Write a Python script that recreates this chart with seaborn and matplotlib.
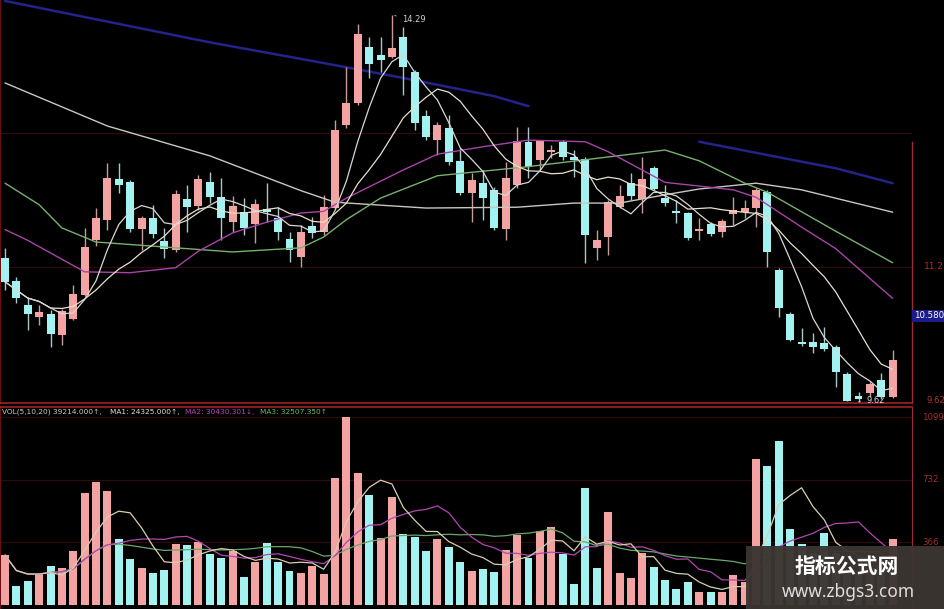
import numpy as np
import pandas as pd
import matplotlib
matplotlib.use("Agg")
import matplotlib.pyplot as plt
import seaborn as sns
from matplotlib.patches import Rectangle

# daily k-line (price)
opens = [11.36, 11.08, 10.79, 10.65, 10.68, 10.43, 10.62, 10.91, 11.57, 11.82,
         12.31, 12.27, 11.71, 11.84, 11.56, 11.45, 12.07, 11.98, 12.27, 12.09,
         11.79, 11.91, 11.77, 11.95, 11.84, 11.59, 11.37, 11.74, 11.67, 11.96,
         12.96, 13.23, 13.90, 13.81, 13.78, 14.02, 13.60, 13.07, 12.78, 12.93,
         12.53, 12.14, 12.26, 12.18, 11.71, 12.24, 12.76, 12.54, 12.64, 12.76,
         12.58, 12.55, 11.48, 11.61, 11.97, 12.26, 12.07, 12.44, 12.08, 11.92,
         11.90, 11.68, 11.77, 11.67, 11.89, 11.91, 11.96, 12.15, 11.21, 10.68,
         10.34, 10.34, 10.33, 10.28, 9.96, 9.69, 9.73, 9.88, 9.68]
highs = [11.48, 11.13, 10.89, 10.79, 10.73, 10.74, 11.03, 11.72, 11.96, 12.50,
         12.50, 12.30, 11.86, 12.00, 11.72, 12.18, 12.24, 12.36, 12.40, 12.32,
         12.11, 12.08, 12.07, 12.26, 11.97, 11.67, 11.76, 11.85, 12.12, 13.02,
         13.66, 14.18, 14.02, 14.02, 14.29, 14.15, 13.63, 13.14, 13.00, 13.08,
         12.69, 12.38, 12.42, 12.21, 12.52, 12.94, 12.94, 12.78, 12.72, 12.78,
         12.66, 12.58, 11.70, 12.06, 12.24, 12.38, 12.58, 12.47, 12.24, 12.06,
         11.91, 11.84, 11.79, 11.83, 12.09, 12.06, 12.20, 12.18, 11.24, 10.71,
         10.51, 10.45, 10.52, 10.31, 9.98, 9.74, 9.86, 9.97, 10.25]
lows = [10.97, 10.81, 10.49, 10.55, 10.28, 10.31, 10.61, 10.90, 11.50, 11.70,
        12.14, 11.67, 11.45, 11.60, 11.36, 11.43, 11.67, 11.94, 12.02, 11.57,
        11.67, 11.63, 11.54, 11.79, 11.57, 11.31, 11.25, 11.60, 11.63, 11.95,
        12.93, 13.20, 13.53, 13.60, 13.77, 13.32, 12.90, 12.78, 12.60, 12.48,
        12.12, 11.79, 11.82, 11.70, 11.57, 12.20, 12.32, 12.42, 12.56, 12.54,
        12.33, 11.30, 11.33, 11.39, 11.96, 12.06, 11.90, 12.18, 11.98, 11.78,
        11.57, 11.57, 11.62, 11.61, 11.76, 11.84, 11.73, 11.25, 10.65, 10.36,
        10.30, 10.21, 10.23, 9.80, 9.63, 9.62, 9.68, 9.65, 9.67]
closes = [11.07, 10.87, 10.68, 10.71, 10.44, 10.72, 10.92, 11.49, 11.84, 12.32,
          12.24, 11.71, 11.84, 11.65, 11.47, 12.13, 11.97, 12.31, 12.09, 11.84,
          11.98, 11.72, 12.01, 11.91, 11.67, 11.45, 11.67, 11.66, 11.97, 12.90,
          13.23, 14.06, 13.70, 13.75, 13.89, 13.66, 12.99, 12.82, 12.96, 12.52,
          12.14, 12.30, 12.08, 11.72, 12.32, 12.77, 12.46, 12.77, 12.66, 12.58,
          12.54, 11.63, 11.57, 12.03, 12.11, 12.11, 12.31, 12.19, 12.02, 11.90,
          11.60, 11.71, 11.65, 11.80, 11.94, 11.96, 12.18, 11.43, 10.75, 10.37,
          10.32, 10.28, 10.26, 9.98, 9.63, 9.65, 9.84, 9.68, 10.13]

# volume (axis units) and bar colour (1 = red/up)
volumes = [292, 111, 140, 181, 228, 216, 316, 655, 719, 666,
           386, 269, 216, 187, 205, 357, 351, 368, 298, 275,
           316, 164, 251, 362, 251, 199, 187, 228, 181, 742,
           1099, 772, 643, 392, 631, 415, 398, 316, 386, 339,
           251, 199, 210, 193, 322, 409, 275, 433, 456, 298,
           123, 684, 216, 544, 187, 158, 304, 222, 146, 94,
           134, 76, 76, 76, 175, 134, 854, 813, 959, 444,
           357, 304, 421, 304, 205, 193, 216, 234, 386]
vol_up = [1, 0, 0, 1, 0, 1, 1, 1, 1, 1,
          0, 0, 1, 0, 0, 1, 0, 1, 0, 0,
          1, 0, 1, 0, 0, 0, 1, 1, 1, 1,
          1, 1, 0, 1, 1, 0, 0, 0, 1, 0,
          0, 1, 0, 0, 1, 1, 0, 1, 1, 0,
          0, 0, 0, 1, 1, 1, 1, 0, 0, 0,
          0, 1, 0, 1, 1, 1, 1, 0, 0, 0,
          0, 0, 0, 0, 0, 0, 1, 0, 1]

# long moving averages (history not visible)
ma20_idx = [0, 2, 7, 11, 15, 17, 20, 23, 26, 28, 30, 35, 38, 42, 46, 51, 53, 58, 64, 66, 70, 73, 78]
ma20_val = [11.70, 11.57, 11.19, 11.18, 11.24, 11.44, 11.66, 11.79, 11.90, 11.92, 12.08, 12.42,
            12.61, 12.70, 12.78, 12.76, 12.64, 12.27, 12.18, 12.09, 11.73, 11.47, 10.87]
ma30_idx = [0, 3, 5, 8, 14, 20, 26, 28, 30, 33, 38, 46, 52, 58, 61, 65, 67, 73, 78]
ma30_val = [12.26, 12.00, 11.72, 11.55, 11.49, 11.43, 11.48, 11.61, 11.82, 12.08, 12.35,
            12.46, 12.56, 12.66, 12.53, 12.26, 12.15, 11.68, 11.30]
ma60_idx = [0, 9, 18, 26, 29, 37, 45, 50, 54, 58, 61, 66, 70, 78]
ma60_val = [13.47, 12.95, 12.59, 12.17, 12.03, 11.96, 11.97, 12.02, 12.02, 12.12, 12.19,
            12.26, 12.18, 11.91]
ma120_a_idx = [0, 9, 18, 28, 35, 43, 46]
ma120_a_val = [14.46, 14.21, 13.96, 13.71, 13.53, 13.31, 13.19]
ma120_b_idx = [61, 67, 73, 78]
ma120_b_val = [12.76, 12.60, 12.44, 12.26]

vol_labels = ["VOL(5,10,20) 39214.000↑,", "MA1: 24325.000↑,", "MA2: 30430.301↓,", "MA3: 32507.350↑"]

df = pd.DataFrame({"open": opens, "high": highs, "low": lows, "close": closes,
                   "vol": volumes, "vup": vol_up})
df["i"] = np.arange(len(df))
df["ma5"] = df["close"].rolling(5, min_periods=1).mean()
df["ma10"] = df["close"].rolling(10, min_periods=1).mean()
df["vma5"] = df["vol"].rolling(5, min_periods=1).mean()
df["vma10"] = df["vol"].rolling(10, min_periods=1).mean()
df["vma20"] = df["vol"].rolling(20, min_periods=1).mean()

sns.set_style("dark", {"axes.facecolor": "black", "figure.facecolor": "black"})
plt.rcParams['font.family'] = ['DejaVu Sans', 'Noto Sans CJK SC']

PINK = "#f4a3a3"
CYAN = "#a3f2f2"
W, H = 945, 609

fig = plt.figure(figsize=(9.45, 6.09), dpi=100)
fig.patch.set_facecolor("black")
ax = fig.add_axes([0, 1 - 403 / H, 912 / W, 403 / H])
ax2 = fig.add_axes([0, 0, 912 / W, (H - 407) / H])

# ---- price pane
up = df["close"] >= df["open"]
colors = np.where(up, PINK, CYAN)
wick = np.where(up, "#c89a9a", "#a8c8c8")
bottoms = np.minimum(df["open"], df["close"])
heights = np.maximum((df["close"] - df["open"]).abs(), 0.02)
for lvl in [12.87, 11.25]:
    ax.axhline(lvl, color="#300b0b", lw=0.9, zorder=0)
ax.vlines(df["i"], df["low"], df["high"], colors=wick, lw=1, zorder=2)
ax.bar(df["i"], heights, bottom=bottoms, width=0.7, color=colors, lw=0, zorder=3)

sns.lineplot(x=ma120_a_idx, y=ma120_a_val, ax=ax, color="#23238a", lw=1.8, zorder=1)
sns.lineplot(x=ma120_b_idx, y=ma120_b_val, ax=ax, color="#23238a", lw=1.8, zorder=1)
sns.lineplot(x=ma60_idx, y=ma60_val, ax=ax, color="#c8c8c0", lw=1.0, zorder=4)
sns.lineplot(x=ma30_idx, y=ma30_val, ax=ax, color="#78b070", lw=1.0, zorder=4)
sns.lineplot(x=ma20_idx, y=ma20_val, ax=ax, color="#a844a8", lw=1.0, zorder=4)
sns.lineplot(data=df, x="i", y="ma10", ax=ax, color="#e8e0cc", lw=0.9, zorder=4)
sns.lineplot(data=df, x="i", y="ma5", ax=ax, color="#d8d8d8", lw=0.9, zorder=4)

hi = df["high"].idxmax()
lo = df["low"].idxmin()
ax.annotate(f"{df['high'][hi]:.2f}", xy=(hi, df["high"][hi]), xytext=(hi + 0.9, df["high"][hi] - 0.06),
            color="#d0d0d0", fontsize=6, va="center", ha="left",
            arrowprops=dict(arrowstyle="-", color="#d0d0d0", lw=0.6))
ax.annotate(f"{df['low'][lo]:.2f}", xy=(lo, df["low"][lo]), xytext=(lo + 0.7, df["low"][lo] + 0.02),
            color="#d0d0d0", fontsize=6, va="center", ha="left", annotation_clip=False,
            arrowprops=dict(arrowstyle="-", color="#d0d0d0", lw=0.6))

ax.set_xlim(-0.44, 79.7)
ax.set_ylim(9.607, 14.471)
ax.set_xticks([])
ax.set_yticks([])
ax.set_xlabel("")
ax.set_ylabel("")
ax.grid(False)
ax.spines["top"].set_visible(False)
ax.spines["bottom"].set_color("#a02030")
ax.spines["bottom"].set_linewidth(1.2)
ax.spines["left"].set_color("#6a1010")
ax.spines["left"].set_linewidth(1.5)
ax.spines["right"].set_color("#a02838")
ax.spines["right"].set_linewidth(1.0)
ax.spines["right"].set_bounds(9.607, 12.76)

ytr = ax.get_yaxis_transform()
ax.text(1.013, 11.25, "11.2", transform=ytr, color="#b03030", fontsize=6.5, va="center", clip_on=False)
ax.text(1.016, 9.64, "9.62", transform=ytr, color="#b03030", fontsize=6.2, va="center", clip_on=False)
ax.text(1.002, 10.66, "10.580", transform=ytr, color="white", fontsize=6.2, va="center",
        clip_on=False, bbox=dict(boxstyle="square,pad=0.2", fc="#1c1c8c", ec="none"))

# ---- volume pane
vcol = np.where(df["vup"] == 1, PINK, CYAN)
for lvl in [1099, 732, 366]:
    ax2.axhline(lvl, color="#300b0b", lw=0.9, zorder=0)
ax2.bar(df["i"], df["vol"], width=0.7, color=vcol, lw=0, zorder=2)
sns.lineplot(data=df, x="i", y="vma20", ax=ax2, color="#6aa86a", lw=0.9, zorder=3)
sns.lineplot(data=df, x="i", y="vma10", ax=ax2, color="#b048b0", lw=0.9, zorder=3)
sns.lineplot(data=df, x="i", y="vma5", ax=ax2, color="#d8ceb0", lw=0.9, zorder=3)
ax2.set_xlim(-0.44, 79.7)
ax2.set_ylim(-23.4, 1157.5)
ax2.set_xticks([])
ax2.set_yticks([])
ax2.set_xlabel("")
ax2.set_ylabel("")
ax2.grid(False)
ax2.spines["bottom"].set_visible(False)
ax2.spines["top"].set_color("#a02030")
ax2.spines["top"].set_linewidth(1.2)
ax2.spines["left"].set_color("#6a1010")
ax2.spines["left"].set_linewidth(1.5)
ax2.spines["right"].set_color("#a02838")

vtr = ax2.get_yaxis_transform()
for lvl, txt in [(1099, "1099"), (732, "732"), (366, "366")]:
    ax2.text(1.011, lvl, txt, transform=vtr, color="#a03030", fontsize=6.2, va="center", clip_on=False)

hdr_x = [2, 110, 185, 260]
hdr_c = ["#c8c8c8", "#e0e0d0", "#c040c0", "#60c060"]
for xp, txt, c in zip(hdr_x, vol_labels, hdr_c):
    fig.text(xp / W, 1 - 412 / H, txt, color=c, fontsize=5.3, va="center", ha="left")

# ---- watermark
fig.patches.append(Rectangle((746 / W, 0), 199 / W, 63 / H, transform=fig.transFigure,
                             facecolor="#3c3532", edgecolor="none", alpha=0.97, zorder=10))
fig.text(847 / W, 1 - 566 / H, "指标公式网", color="white", fontsize=15, fontweight="bold",
         family=["Noto Sans CJK SC", "DejaVu Sans"], ha="center", va="center", zorder=11)
fig.text(848 / W, 1 - 592 / H, "www.zbgs3.com", color="#dedede", fontsize=12.5,
         family=["Noto Sans", "DejaVu Sans"], ha="center", va="center", zorder=11)

fig.savefig("out.png", dpi=100, facecolor="black")
